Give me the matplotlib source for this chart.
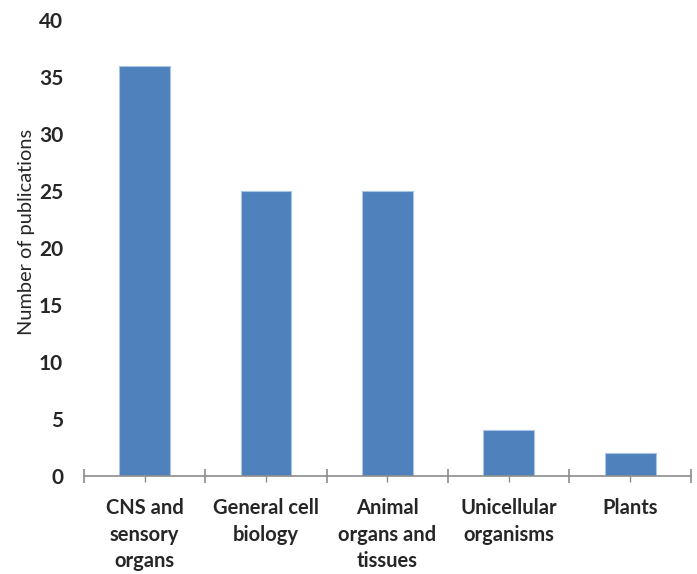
import matplotlib.pyplot as plt
import numpy as np

categories = [
    "CNS and\nsensory\norgans",
    "General cell\nbiology",
    "Animal\norgans and\ntissues",
    "Unicellular\norganisms",
    "Plants",
]
publications = [36, 25, 25, 4, 2]
y_ticks = [0, 5, 10, 15, 20, 25, 30, 35, 40]

BAR_COLOR = "#4F81BD"
AXIS_COLOR = "#8C8C8C"
TEXT_COLOR = "#262626"

plt.rcParams["font.family"] = ["Lato", "DejaVu Sans"]

fig = plt.figure(figsize=(6.97, 5.74), dpi=100)
ax = fig.add_axes([0.1205, 0.1707, 0.8705, 0.7943])

x = np.arange(len(categories))
ax.bar(x, publications, width=0.42, color=BAR_COLOR, edgecolor="#A9C4E4",
       linewidth=0.8, zorder=2)

ax.set_xlim(-0.5, len(categories) - 0.5)
ax.set_ylim(0, 40)

for side in ("top", "right", "left"):
    ax.spines[side].set_visible(False)
ax.spines["bottom"].set_color(AXIS_COLOR)
ax.spines["bottom"].set_linewidth(1.2)
ax.spines["bottom"].set_zorder(3)

# y axis: labels only, no ticks
ax.set_yticks(y_ticks)
ax.set_yticklabels([str(v) for v in y_ticks])
ax.tick_params(axis="y", length=0, pad=15, labelsize=15,
               labelcolor=TEXT_COLOR)
for lbl in ax.get_yticklabels():
    lbl.set_fontweight("bold")

# x axis: crossing ticks on category boundaries, short ticks at centres
ax.set_xticks(np.arange(len(categories) + 1) - 0.5)
ax.set_xticklabels([""] * (len(categories) + 1))
ax.tick_params(axis="x", which="major", direction="inout", length=10,
               width=1.2, color=AXIS_COLOR)
ax.set_xticks(x, minor=True)
ax.set_xticklabels(categories, minor=True)
ax.tick_params(axis="x", which="minor", direction="out", length=4,
               width=1.0, color=AXIS_COLOR, pad=12, labelsize=14.5,
               labelcolor=TEXT_COLOR)
for lbl in ax.get_xticklabels(minor=True):
    lbl.set_fontweight("bold")
    lbl.set_linespacing(1.4)
    lbl.set_verticalalignment("top")

ax.set_ylabel("Number of publications", fontsize=14.4, color=TEXT_COLOR)
ax.yaxis.set_label_coords(-0.08, 0.535)

fig.savefig("out.png", dpi=100)
